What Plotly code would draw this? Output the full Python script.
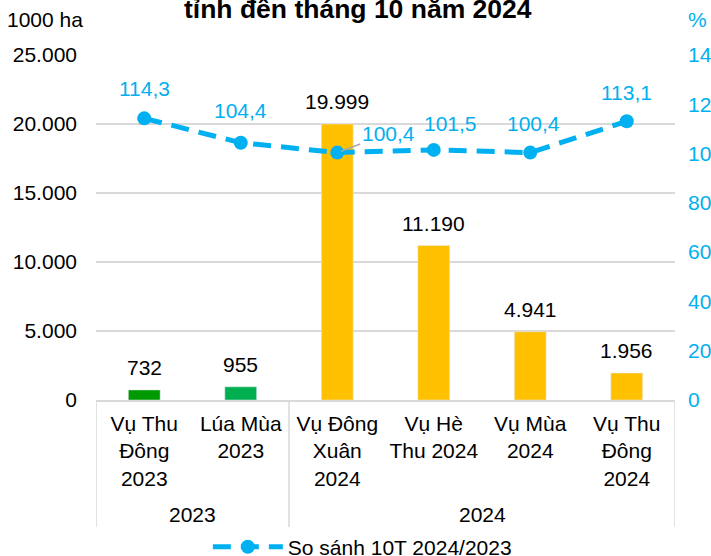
import plotly.graph_objects as go

categories = ["Vụ Thu<br>Đông<br>2023", "Lúa Mùa<br>2023", "Vụ Đông<br>Xuân<br>2024",
              "Vụ Hè<br>Thu 2024", "Vụ Mùa<br>2024", "Vụ Thu<br>Đông<br>2024"]
groups = ["2023", "2024"]
group_sizes = [2, 4]
area = [732, 955, 19999, 11190, 4941, 1956]
ratio = [114.3, 104.4, 100.4, 101.5, 100.4, 113.1]
bar_colors = ["#009900", "#00B050", "#FFC000", "#FFC000", "#FFC000", "#FFC000"]
area_labels = ["732", "955", "19.999", "11.190", "4.941", "1.956"]
ratio_labels = ["114,3", "104,4", "100,4", "101,5", "100,4", "113,1"]
left_ticks = [0, 5000, 10000, 15000, 20000, 25000]
left_ticktext = ["0", "5.000", "10.000", "15.000", "20.000", "25.000"]
right_ticks = [0, 20, 40, 60, 80, 100, 120, 140]

FONT = "Liberation Sans, Arial, sans-serif"
BLUE = "#00B0F0"
GRID = "#D9D9D9"

fig = go.Figure()
fig.add_trace(go.Bar(x=categories, y=area, marker_color=bar_colors, width=0.33,
                     showlegend=False, hoverinfo="skip"))
fig.add_trace(go.Scatter(x=categories, y=ratio, yaxis="y2", mode="lines+markers",
                         name="So sánh 10T 2024/2023",
                         line=dict(color=BLUE, width=5, dash="18px,10px"),
                         marker=dict(size=14, color=BLUE)))

anns = []
# bar data labels
for i, (v, t) in enumerate(zip(area, area_labels)):
    anns.append(dict(x=i, y=v, xref="x", yref="y", text=t, showarrow=False,
                     yanchor="bottom", yshift=9, font=dict(size=21, color="black", family=FONT)))
# line data labels (offsets in px)
offsets = [(0, 30), (0, 32), None, (17, 26), (3, 29), (0, 29)]
for i, (v, t) in enumerate(zip(ratio, ratio_labels)):
    if offsets[i] is None:
        anns.append(dict(x=i, y=v, xref="x", yref="y2", text=t, showarrow=True,
                         arrowhead=0, arrowwidth=1.5, arrowcolor="#A6A6A6", standoff=4,
                         ax=51, ay=-19, font=dict(size=21, color=BLUE, family=FONT)))
    else:
        dx, dy = offsets[i]
        anns.append(dict(x=i, y=v, xref="x", yref="y2", text=t, showarrow=False,
                         xshift=dx, yshift=dy, font=dict(size=21, color=BLUE, family=FONT)))
# group labels and divider lines
start = 0
shapes = []
for g, n in zip(groups, group_sizes):
    anns.append(dict(x=start + (n - 1) / 2, y=-0.333, xref="x", yref="paper", text=g,
                     showarrow=False, yanchor="middle", font=dict(size=21, color="black", family=FONT)))
    shapes.append(dict(type="line", xref="x", yref="paper", x0=start - 0.5, x1=start - 0.5,
                       y0=0, y1=-0.368, line=dict(color=GRID, width=1.5)))
    start += n
shapes.append(dict(type="line", xref="x", yref="paper", x0=start - 0.5, x1=start - 0.5,
                   y0=0, y1=-0.368, line=dict(color=GRID, width=1.5)))
# axis titles and title
anns.append(dict(x=-0.157, y=1.103, xref="paper", yref="paper", text="1000 ha", showarrow=False,
                 xanchor="left", yanchor="middle", font=dict(size=21, color="black", family=FONT)))
anns.append(dict(x=1.038, y=1.103, xref="paper", yref="paper", text="%", showarrow=False,
                 xanchor="center", yanchor="middle", font=dict(size=21, color=BLUE, family=FONT)))
anns.append(dict(x=0.453, y=1.134, xref="paper", yref="paper", text="<b>tỉnh đến tháng 10 năm 2024</b>",
                 showarrow=False, xanchor="center", yanchor="middle",
                 font=dict(size=26.5, color="black", family=FONT)))

fig.update_layout(
    width=711, height=556,
    margin=dict(l=96, r=36, t=55, b=156),
    paper_bgcolor="white", plot_bgcolor="white",
    font=dict(family=FONT, size=21, color="black"),
    annotations=anns, shapes=shapes,
    xaxis=dict(type="category", showline=True, linecolor=GRID, linewidth=1.5,
               showgrid=False, ticks="", tickfont=dict(size=21), range=[-0.5, 5.5],
               automargin=False, ticklabelstandoff=4),
    yaxis=dict(range=[0, 25000], tickvals=left_ticks, ticktext=left_ticktext,
               showgrid=True, gridcolor=GRID, gridwidth=1.5, zeroline=False,
               ticks="", ticklabelstandoff=18, tickfont=dict(size=21), automargin=False),
    yaxis2=dict(range=[0, 140], tickvals=right_ticks, overlaying="y", side="right",
                showgrid=False, zeroline=False, ticks="", ticklabelstandoff=12,
                tickfont=dict(size=21, color=BLUE), automargin=False),
    legend=dict(orientation="h", x=0.46, xanchor="center", yref="container", y=0.016,
                yanchor="middle", font=dict(size=21), itemwidth=70),
    bargap=0.67,
)
fig.write_html("out.html", config={"displayModeBar": False},
               post_script="document.body.style.margin='0px';")
